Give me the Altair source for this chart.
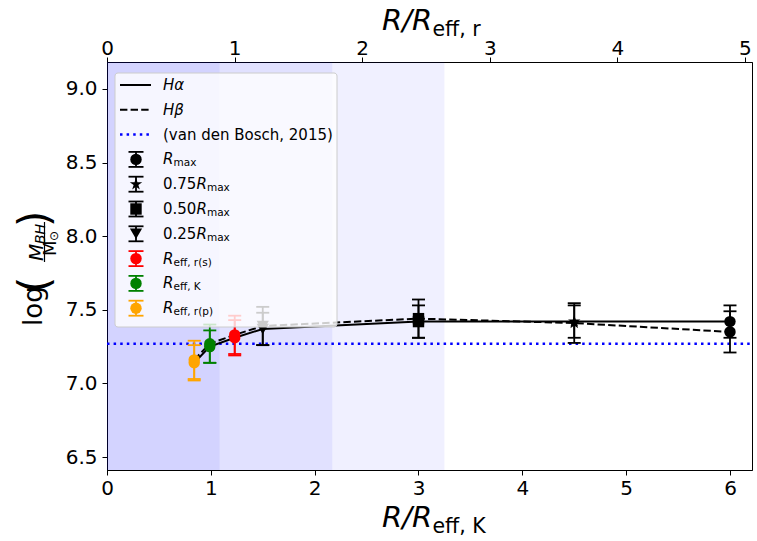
import altair as alt
import pandas as pd

FONT = "DejaVu Sans"
W, H = 645, 408

# Apertures: radius in units of R_eff,K, colour and marker of each one
apertures = ["Reff,r(p)", "Reff,K", "Reff,r(s)", "0.25Rmax", "0.50Rmax", "0.75Rmax", "Rmax"]
radius_k = [0.84, 0.99, 1.23, 1.50, 3.00, 4.50, 6.00]
ap_colors = ["#ffa500", "#008000", "#ff0000", "#000000", "#000000", "#000000", "#000000"]
STAR = ("M0,-1L0.2245,-0.309L0.951,-0.309L0.363,0.118L0.588,0.809L0,0.382"
        "L-0.588,0.809L-0.363,0.118L-0.951,-0.309L-0.2245,-0.309Z")
ap_shapes = ["circle", "circle", "circle", "triangle-down", "square", STAR, "circle"]
ap_sizes = [130, 130, 130, 150, 130, 170, 130]

# log(M_BH / M_sun) from the H-alpha and H-beta measurements
logm_ha = [7.14, 7.25, 7.31, 7.37, 7.42, 7.42, 7.42]
err_ha = [0.12, 0.11, 0.12, 0.11, 0.11, 0.11, 0.11]
logm_hb = [7.16, 7.27, 7.33, 7.39, 7.44, 7.41, 7.35]
err_hb = [0.13, 0.13, 0.13, 0.13, 0.13, 0.135, 0.14]

VDB_LOGM = 7.27                       # van den Bosch (2015)
shade_limits = [3.25, 2.17, 1.085]    # shaded radial ranges, from 0

X_DOMAIN = [0, 6.212]
TOP_DOMAIN = [0, 5.055]               # same range expressed in R_eff,r
Y_DOMAIN = [6.412, 9.183]

rows = []
for series, ys, es in (("Ha", logm_ha, err_ha), ("Hb", logm_hb, err_hb)):
    for i, name in enumerate(apertures):
        rows.append(dict(series=series, aperture=name, r=radius_k[i], logm=ys[i],
                         lo=ys[i] - es[i], hi=ys[i] + es[i], color=ap_colors[i],
                         shape=ap_shapes[i], size=ap_sizes[i]))
pts = pd.DataFrame(rows)
caps = pts.melt(id_vars=["series", "r", "color"], value_vars=["lo", "hi"], value_name="cap")

axis_style = dict(labelFont=FONT, labelFontSize=20, labelColor="black", tickColor="black",
                  domainColor="black", tickSize=5, tickWidth=1, domainWidth=1,
                  grid=False, title=None, labelFlush=False)
x_axis = alt.Axis(values=[0, 1, 2, 3, 4, 5, 6], format="d", labelPadding=3, **axis_style)
y_axis = alt.Axis(values=[6.5, 7.0, 7.5, 8.0, 8.5, 9.0], format=".1f", labelPadding=5, **axis_style)
top_axis = alt.Axis(orient="top", values=[0, 1, 2, 3, 4, 5], format="d", labelPadding=-1, **axis_style)


def xq(field):
    return alt.X(f"{field}:Q", scale=alt.Scale(domain=X_DOMAIN, nice=False, zero=False), axis=x_axis)


def yq(field):
    return alt.Y(f"{field}:Q", scale=alt.Scale(domain=Y_DOMAIN, nice=False, zero=False), axis=y_axis)


one = pd.DataFrame({"k": [0]})


def txt(s, x, y, size, style="normal", angle=0, align="left", baseline="middle"):
    return alt.Chart(one).mark_text(
        text=s, font=FONT, fontSize=size, fontStyle=style, angle=angle,
        align=align, baseline=baseline, color="black"
    ).encode(x=alt.value(x), y=alt.value(y))


# shaded radial ranges
shade = alt.Chart(pd.DataFrame({"x0": [0, 0, 0], "x1": shade_limits})).mark_rect(
    color="#0000ff", opacity=0.06
).encode(x=xq("x0"), x2="x1", y=alt.value(0), y2=alt.value(H))

vdb = alt.Chart(pd.DataFrame({"v": [VDB_LOGM]})).mark_rule(
    color="#0000ff", strokeWidth=2.5, strokeDash=[2.5, 4.1]
).encode(y=yq("v"), x=alt.value(0), x2=alt.value(W))

line_ha = alt.Chart(pts[pts.series == "Ha"]).mark_line(color="black", strokeWidth=2).encode(
    x=xq("r"), y=yq("logm"), order="r:Q")
line_hb = alt.Chart(pts[pts.series == "Hb"]).mark_line(
    color="black", strokeWidth=2, strokeDash=[7.4, 3.2]).encode(
    x=xq("r"), y=yq("logm"), order="r:Q")

err_bars = alt.Chart(pts).mark_rule(strokeWidth=1.8).encode(
    x=xq("r"), y=yq("lo"), y2="hi", color=alt.Color("color:N", scale=None))
err_caps = alt.Chart(caps).mark_rule(strokeWidth=1.8, xOffset=-6.5, x2Offset=6.5).encode(
    x=xq("r"), x2="r", y=yq("cap"), color=alt.Color("color:N", scale=None))
markers = alt.Chart(pts).mark_point(filled=True, opacity=1).encode(
    x=xq("r"), y=yq("logm"),
    color=alt.Color("color:N", scale=None),
    shape=alt.Shape("shape:N", scale=None),
    size=alt.Size("size:Q", scale=None))

# ---- legend (pixel layout inside the plot area) ----
leg_y = [23 + 24.8 * i for i in range(10)]
order = [6, 5, 4, 3, 2, 1, 0]
leg = pd.DataFrame({
    "py": leg_y[3:],
    "top": [v - 7.5 for v in leg_y[3:]],
    "bot": [v + 7.5 for v in leg_y[3:]],
    "color": [ap_colors[i] for i in order],
    "shape": [ap_shapes[i] for i in order],
    "size": [ap_sizes[i] for i in order],
})

leg_box = alt.Chart(one).mark_rect(
    fill="white", fillOpacity=0.8, stroke="#cccccc", strokeWidth=1, cornerRadius=3
).encode(x=alt.value(8), x2=alt.value(230), y=alt.value(11), y2=alt.value(265))

leg_ha = alt.Chart(one).mark_rule(color="black", strokeWidth=2).encode(
    x=alt.value(13), x2=alt.value(44), y=alt.value(leg_y[0]))
leg_hb = alt.Chart(one).mark_rule(color="black", strokeWidth=2, strokeDash=[7.4, 3.2]).encode(
    x=alt.value(13), x2=alt.value(44), y=alt.value(leg_y[1]))
leg_vdb = alt.Chart(one).mark_rule(color="#0000ff", strokeWidth=2.5, strokeDash=[2.5, 4.1]).encode(
    x=alt.value(13), x2=alt.value(44), y=alt.value(leg_y[2]))
leg_err = alt.Chart(leg).mark_rule(strokeWidth=1.8).encode(
    x=alt.value(29), y=alt.Y("top:Q", scale=None), y2="bot",
    color=alt.Color("color:N", scale=None))
leg_cap_t = alt.Chart(leg).mark_rule(strokeWidth=1.8).encode(
    x=alt.value(21.5), x2=alt.value(36.5), y=alt.Y("top:Q", scale=None),
    color=alt.Color("color:N", scale=None))
leg_cap_b = alt.Chart(leg).mark_rule(strokeWidth=1.8).encode(
    x=alt.value(21.5), x2=alt.value(36.5), y=alt.Y("bot:Q", scale=None),
    color=alt.Color("color:N", scale=None))
leg_mark = alt.Chart(leg).mark_point(filled=True, opacity=1).encode(
    x=alt.value(29), y=alt.Y("py:Q", scale=None),
    color=alt.Color("color:N", scale=None),
    shape=alt.Shape("shape:N", scale=None),
    size=alt.Size("size:Q", scale=None))

LX = 56
FS, SS = 15, 10.5
leg_text = [
    txt("Hα", LX, leg_y[0], FS, "italic"),
    txt("Hβ", LX, leg_y[1], FS, "italic"),
    txt("(van den Bosch, 2015)", LX, leg_y[2], FS),
    txt("R", LX, leg_y[3], FS, "italic"),
    txt("max", LX + 10.5, leg_y[3] + 4, SS),
]
for k, pre in zip((4, 5, 6), ("0.75", "0.50", "0.25")):
    leg_text += [
        txt(pre, LX, leg_y[k], FS),
        txt("R", LX + 33.4, leg_y[k], FS, "italic"),
        txt("max", LX + 43.9, leg_y[k] + 4, SS),
    ]
for k, sub in zip((7, 8, 9), ("eff, r(s)", "eff, K", "eff, r(p)")):
    leg_text += [
        txt("R", LX, leg_y[k], FS, "italic"),
        txt(sub, LX + 10.5, leg_y[k] + 4, SS),
    ]

# ---- axis titles ----
titles = [
    txt("R/R", 275, 465, 29, "italic", baseline="alphabetic"),
    txt("eff, K", 325.5, 471, 20.5, baseline="alphabetic"),
    txt("R/R", 275, -32, 29, "italic", baseline="alphabetic"),
    txt("eff, r", 325.5, -26, 20.5, baseline="alphabetic"),
    # log(M_BH / M_sun), written bottom-to-top (rotated text starts at its y)
    txt("log", -73, 264, 26, angle=270),
    txt("(", -71, 231, 42, angle=270),
    txt(")", -71, 165, 42, angle=270),
    txt("M", -70, 199, 20, "italic", angle=270),
    txt("BH", -66, 182, 14, "italic", angle=270),
    txt("M", -56, 194, 18, angle=270),
    txt("⊙", -53, 179, 12, angle=270),
]
frac_bar = alt.Chart(one).mark_rule(color="black", strokeWidth=1.2).encode(
    x=alt.value(-62.5), y=alt.value(160), y2=alt.value(200))

inner = alt.layer(
    shade, vdb, line_ha, line_hb, err_bars, err_caps, markers,
    leg_box, leg_ha, leg_hb, leg_vdb, leg_err, leg_cap_t, leg_cap_b, leg_mark,
    *leg_text, *titles, frac_bar,
)

top = alt.Chart(pd.DataFrame({"rr": TOP_DOMAIN})).mark_point(opacity=0).encode(
    x=alt.X("rr:Q", scale=alt.Scale(domain=TOP_DOMAIN, nice=False, zero=False), axis=top_axis))

chart = alt.layer(inner, top).resolve_scale(x="independent").properties(
    width=W, height=H,
    padding={"left": 107, "top": 62, "right": 5, "bottom": 71},
    autosize=alt.AutoSizeParams(type="none"),
    background="white",
).configure_view(stroke="black", strokeWidth=1)

chart.save("out.html", embed_options={"renderer": "svg", "actions": False})
